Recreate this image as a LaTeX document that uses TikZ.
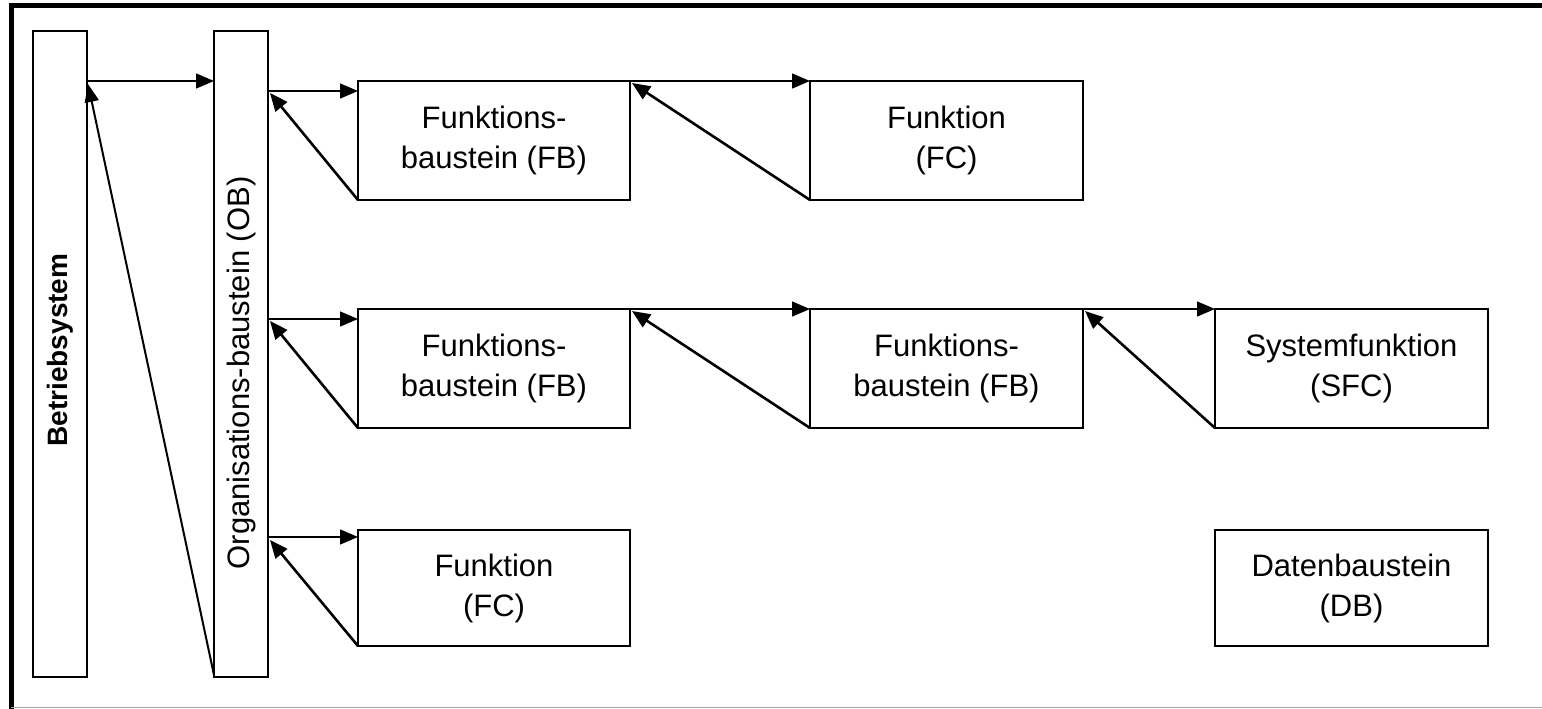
\documentclass[tikz,border=0pt]{standalone}
\usepackage{fontspec}
\setmainfont{Liberation Sans}
\usetikzlibrary{arrows.meta,calc}
\begin{document}
\begin{tikzpicture}[x=1pt,y=-1pt,
  box/.style={draw=black,line width=2.4pt,inner sep=0pt,outer sep=0pt,fill=white,
    align=center,font=\fontsize{31}{40}\selectfont},
  boxtext/.style={inner sep=0pt,font=\fontsize{31}{40}\selectfont},
  harrow/.style={line width=1.5pt,-{Triangle[length=18pt,width=15pt]}},
  darrow/.style={line width=2.6pt,-{Triangle[length=18pt,width=15pt]}},
  larrow/.style={line width=2pt,-{Triangle[length=18pt,width=14pt]}}]
\useasboundingbox (0,0) rectangle (1542,709);
% outer frame
\draw[line width=5pt] (11,709) -- (11,6) -- (1545,6);
\draw[line width=1.5pt,black!35] (11,707.5) -- (1545,707.5);
% boxes
\node[box,minimum width=54pt,minimum height=646pt] (bs) at (60,354) {};
\node[box,minimum width=54pt,minimum height=646pt] (ob) at (241,354) {};
\node[boxtext,rotate=90,font=\fontsize{28}{34}\selectfont\bfseries] (bst) at (60,350) {Betriebsystem};
\node[boxtext,rotate=90] (obt) at (241,373) {Organisations-baustein (OB)};
\node[box,minimum width=272pt,minimum height=119pt] (fb1) at (494,140.5) {Funktions-\\baustein (FB)};
\node[box,minimum width=273pt,minimum height=119pt] (fc1) at (946.5,140.5) {Funktion\\(FC)};
\node[box,minimum width=272pt,minimum height=119pt] (fb2) at (494,368.5) {Funktions-\\baustein (FB)};
\node[box,minimum width=273pt,minimum height=119pt] (fb3) at (946.5,368.5) {Funktions-\\baustein (FB)};
\node[box,minimum width=273pt,minimum height=119pt] (sfc) at (1351.5,368.5) {Systemfunktion\\(SFC)};
\node[box,minimum width=272pt,minimum height=116pt] (fc3) at (494,588) {Funktion\\(FC)};
\node[box,minimum width=273pt,minimum height=116pt] (db) at (1351.5,588) {Datenbaustein\\(DB)};
% helper coordinates
\coordinate (a0) at ($(bs.north east)+(0,50)$);
\coordinate (a1) at ($(fb1.north west)+(0,10)$);
\coordinate (a2) at ($(fb2.north west)+(0,10)$);
\coordinate (a3) at ($(fc3.north west)+(0,7)$);
% call arrows
\draw[harrow] (a0) -- (ob.west |- a0);
\draw[harrow] (ob.east |- a1) -- (a1);
\draw[harrow] (ob.east |- a2) -- (a2);
\draw[harrow] (ob.east |- a3) -- (a3);
\draw[harrow] (fb1.north east) -- (fc1.north west);
\draw[harrow] (fb2.north east) -- (fb3.north west);
\draw[harrow] (fb3.north east) -- (sfc.north west);
% return arrows
\draw[darrow] (fb1.south west) -- ($(ob.east |- a1)+(2,2)$);
\draw[darrow] (fb2.south west) -- ($(ob.east |- a2)+(2,2)$);
\draw[darrow] (fc3.south west) -- ($(ob.east |- a3)+(2,3)$);
\draw[darrow] (fc1.south west) -- ($(fb1.north east)+(2,2)$);
\draw[darrow] (fb3.south west) -- ($(fb2.north east)+(2,2)$);
\draw[darrow] (sfc.south west) -- ($(fb3.north east)+(2,2)$);
\draw[larrow] ($(ob.south west)+(0,-2)$) -- ($(a0)+(1,3)$);
\end{tikzpicture}
\end{document}
